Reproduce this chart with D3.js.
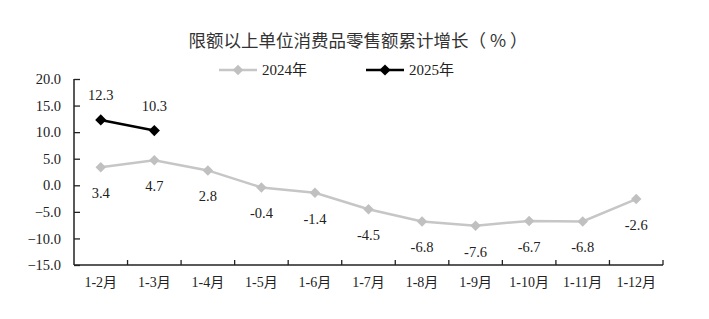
<!DOCTYPE html>
<html>
<head>
<meta charset="utf-8">
<script src="https://cdn.jsdelivr.net/npm/d3@7"></script>
<style>
  body { margin: 0; background: #fff; }
  svg text { font-family: "Liberation Serif", "Noto Sans CJK SC", serif; fill: #222; }
</style>
</head>
<body>
<svg id="chart" width="709" height="319"></svg>
<script>
// ── DATA ──────────────────────────────────────────────
const months = ["1-2月", "1-3月", "1-4月", "1-5月", "1-6月", "1-7月", "1-8月", "1-9月", "1-10月", "1-11月", "1-12月"];
const values2024 = [3.4, 4.7, 2.8, -0.4, -1.4, -4.5, -6.8, -7.6, -6.7, -6.8, -2.6];
const values2025 = [12.3, 10.3];
const yTicks = [20, 15, 10, 5, 0, -5, -10, -15];

const series = [
  { name: "2024年", values: values2024, color: "#c6c6c6", marker: "#c0c0c0", labelDy: 26 },
  { name: "2025年", values: values2025, color: "#000", marker: "#000", labelDy: -25 }
];

// ── LAYOUT ────────────────────────────────────────────
const margin = { left: 74, right: 46, top: 79, bottom: 54 };
const width = 709, height = 319;
const innerW = width - margin.left - margin.right;
const innerH = height - margin.top - margin.bottom;

const svg = d3.select("#chart");
const g = svg.append("g").attr("transform", `translate(${margin.left},${margin.top})`);

const x = d3.scaleBand().domain(months).range([0, innerW]);
const y = d3.scaleLinear().domain([-15, 20]).range([innerH, 0]);

// title
svg.append("text")
  .attr("x", 358).attr("y", 47)
  .attr("text-anchor", "middle")
  .style("font-size", "17.5px")
  .style("fill", "#333")
  .style("font-family", "'Noto Sans CJK SC', sans-serif")
  .text("限额以上单位消费品零售额累计增长（ % ）");

// ── AXES ──────────────────────────────────────────────
const yAxis = g.append("g")
  .call(d3.axisLeft(y).tickValues(yTicks).tickSize(-6).tickPadding(13).tickFormat(d3.format(".1f")));
yAxis.select(".domain").attr("stroke", "#222").attr("stroke-width", 1.5).attr("d", `M0,0V${innerH}`);
yAxis.selectAll(".tick line").attr("stroke", "#222").attr("stroke-width", 1.3);
yAxis.selectAll(".tick text").style("font-size", "14.5px").style("font-family", "'Liberation Serif', serif").attr("fill", "#222");

const xAxis = g.append("g").attr("transform", `translate(0,${innerH})`);
xAxis.append("line")
  .attr("x1", 0).attr("x2", innerW)
  .attr("stroke", "#222").attr("stroke-width", 1.5);
xAxis.selectAll(".xtick")
  .data(months.slice(1).concat(["end"]))
  .join("line")
    .attr("x1", (d, i) => x.step() * (i + 1))
    .attr("x2", (d, i) => x.step() * (i + 1))
    .attr("y1", 0).attr("y2", -5)
    .attr("stroke", "#222").attr("stroke-width", 1.3);
xAxis.selectAll(".xlabel")
  .data(months)
  .join("text")
    .attr("x", d => x(d) + x.bandwidth() / 2)
    .attr("y", 22)
    .attr("text-anchor", "middle")
    .style("font-size", "14px")
    .text(d => d);

// ── LINES ─────────────────────────────────────────────
const line = d3.line()
  .x((d, i) => x(months[i]) + x.bandwidth() / 2)
  .y(d => y(d));

const diamond = d3.symbol().type(d3.symbolDiamond2);

series.forEach(s => {
  g.append("path")
    .datum(s.values)
    .attr("fill", "none")
    .attr("stroke", s.color)
    .attr("stroke-width", 2.5)
    .attr("d", line);

  g.selectAll(null)
    .data(s.values)
    .join("path")
      .attr("transform", (d, i) => `translate(${x(months[i]) + x.bandwidth() / 2},${y(d)})`)
      .attr("d", diamond.size(s.name === "2025年" ? 80 : 70))
      .attr("fill", s.marker);

  g.selectAll(null)
    .data(s.values)
    .join("text")
      .attr("x", (d, i) => x(months[i]) + x.bandwidth() / 2)
      .attr("y", d => y(d) + s.labelDy)
      .attr("dy", "0.35em")
      .attr("text-anchor", "middle")
      .style("font-size", "14.5px")
      .text(d => d.toFixed(1));
});

// ── LEGEND ────────────────────────────────────────────
const legendPos = [{ x: 219 }, { x: 366 }];
const legend = svg.selectAll(".legend")
  .data(series)
  .join("g")
    .attr("transform", (d, i) => `translate(${legendPos[i].x},70)`);

legend.append("line")
  .attr("x1", 0).attr("x2", 38)
  .attr("stroke", d => d.color)
  .attr("stroke-width", 2.5);
legend.append("path")
  .attr("transform", "translate(19,0)")
  .attr("d", d => diamond.size(d.name === "2025年" ? 80 : 70)())
  .attr("fill", d => d.marker);
legend.append("text")
  .attr("x", 43)
  .attr("dy", "0.35em")
  .style("font-size", "15px")
  .text(d => d.name);
</script>
</body>
</html>
